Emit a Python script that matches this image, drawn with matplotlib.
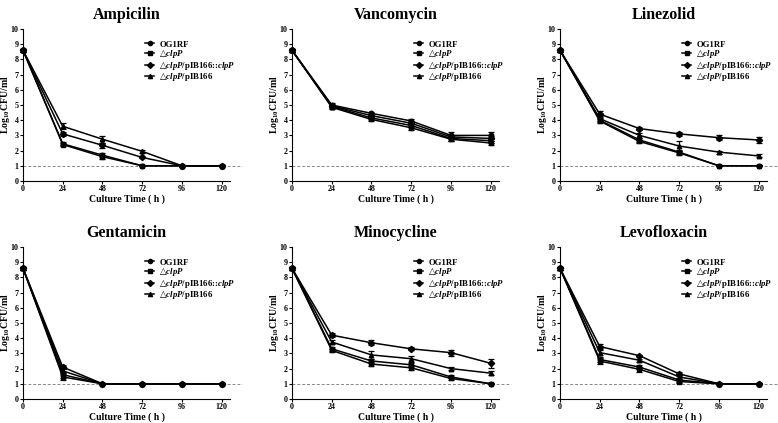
import matplotlib
matplotlib.use("Agg")
import matplotlib.pyplot as plt
import numpy as np

plt.rcParams['font.family'] = ['Liberation Serif', 'DejaVu Sans']
plt.rcParams['font.weight'] = 'bold'
plt.rcParams['mathtext.fontset'] = 'custom'
plt.rcParams['mathtext.rm'] = 'Liberation Serif:bold'
plt.rcParams['mathtext.it'] = 'Liberation Serif:bold:italic'
plt.rcParams['mathtext.bf'] = 'Liberation Serif:bold'
plt.rcParams['mathtext.sf'] = 'DejaVu Sans'
plt.rcParams['mathtext.fallback'] = 'stix'

time_h = [0, 24, 48, 72, 96, 120]
strains = ['OG1RF', r'$\mathsf{△}\mathit{clpP}$',
           r'$\mathsf{△}\mathit{clpP}$/pIB166::$\mathit{clpP}$',
           r'$\mathsf{△}\mathit{clpP}$/pIB166']
markers = ['o', 's', 'D', '^']

ampicilin = [
    [8.6, 2.45, 1.7, 1.0, 1.0, 1.0],
    [8.6, 2.4, 1.6, 1.0, 1.0, 1.0],
    [8.6, 3.1, 2.35, 1.55, 1.0, 1.0],
    [8.6, 3.6, 2.75, 1.95, 1.0, 1.0],
]
ampicilin_err = [
    [0.1, 0.1, 0.12, 0.02, 0.02, 0.02],
    [0.1, 0.1, 0.12, 0.02, 0.02, 0.02],
    [0.1, 0.15, 0.15, 0.05, 0.02, 0.02],
    [0.1, 0.2, 0.22, 0.12, 0.02, 0.02],
]
vancomycin = [
    [8.6, 5.0, 4.45, 3.95, 3.0, 3.0],
    [8.6, 4.85, 4.05, 3.5, 2.75, 2.5],
    [8.6, 4.95, 4.3, 3.8, 2.9, 2.8],
    [8.6, 4.9, 4.15, 3.65, 2.8, 2.65],
]
vancomycin_err = [
    [0.1, 0.12, 0.12, 0.15, 0.2, 0.25],
    [0.1, 0.1, 0.1, 0.12, 0.15, 0.12],
    [0.1, 0.1, 0.12, 0.12, 0.15, 0.15],
    [0.1, 0.1, 0.1, 0.12, 0.15, 0.12],
]
linezolid = [
    [8.6, 4.0, 2.7, 1.9, 1.0, 1.0],
    [8.6, 3.95, 2.6, 1.85, 1.0, 1.0],
    [8.6, 4.4, 3.45, 3.1, 2.85, 2.7],
    [8.6, 4.1, 3.0, 2.3, 1.9, 1.65],
]
linezolid_err = [
    [0.1, 0.12, 0.12, 0.15, 0.02, 0.02],
    [0.1, 0.12, 0.12, 0.12, 0.02, 0.02],
    [0.1, 0.2, 0.12, 0.15, 0.15, 0.2],
    [0.1, 0.15, 0.15, 0.3, 0.1, 0.1],
]
gentamicin = [
    [8.6, 1.6, 1.0, 1.0, 1.0, 1.0],
    [8.6, 1.45, 1.0, 1.0, 1.0, 1.0],
    [8.6, 2.1, 1.0, 1.0, 1.0, 1.0],
    [8.6, 1.85, 1.0, 1.0, 1.0, 1.0],
]
gentamicin_err = [
    [0.1, 0.2, 0.02, 0.02, 0.02, 0.02],
    [0.1, 0.2, 0.02, 0.02, 0.02, 0.02],
    [0.1, 0.12, 0.02, 0.02, 0.02, 0.02],
    [0.1, 0.15, 0.02, 0.02, 0.02, 0.02],
]
minocycline = [
    [8.6, 3.3, 2.5, 2.25, 1.45, 1.0],
    [8.6, 3.2, 2.3, 2.05, 1.35, 1.0],
    [8.6, 4.2, 3.7, 3.3, 3.05, 2.35],
    [8.6, 3.75, 2.9, 2.65, 2.0, 1.7],
]
minocycline_err = [
    [0.1, 0.12, 0.12, 0.12, 0.1, 0.02],
    [0.1, 0.1, 0.12, 0.12, 0.1, 0.02],
    [0.1, 0.15, 0.15, 0.1, 0.2, 0.3],
    [0.1, 0.15, 0.25, 0.2, 0.12, 0.12],
]
levofloxacin = [
    [8.6, 2.6, 2.1, 1.25, 1.0, 1.0],
    [8.6, 2.5, 1.95, 1.15, 1.0, 1.0],
    [8.6, 3.45, 2.85, 1.65, 1.0, 1.0],
    [8.6, 3.05, 2.55, 1.45, 1.0, 1.0],
]
levofloxacin_err = [
    [0.1, 0.15, 0.15, 0.1, 0.02, 0.02],
    [0.1, 0.2, 0.15, 0.1, 0.02, 0.02],
    [0.1, 0.15, 0.05, 0.15, 0.02, 0.02],
    [0.1, 0.15, 0.1, 0.15, 0.02, 0.02],
]

panels = [
    ('Ampicilin', ampicilin, ampicilin_err),
    ('Vancomycin', vancomycin, vancomycin_err),
    ('Linezolid', linezolid, linezolid_err),
    ('Gentamicin', gentamicin, gentamicin_err),
    ('Minocycline', minocycline, minocycline_err),
    ('Levofloxacin', levofloxacin, levofloxacin_err),
]

fig = plt.figure(figsize=(7.78, 4.23), dpi=100)
lefts = [23 / 778, 292 / 778, 560 / 778]
bottoms = [1 - 181 / 423, 1 - 399 / 423]
w = 207 / 778
h = 152 / 423

for i, (title, data, err) in enumerate(panels):
    r, c = divmod(i, 3)
    ax = fig.add_axes([lefts[c], bottoms[r], w, h])
    for k in range(4):
        ax.errorbar(time_h, data[k], yerr=err[k], color='black', lw=1.1,
                    marker=markers[k], ms=3.2, capsize=2, elinewidth=0.9,
                    capthick=0.9, clip_on=False, zorder=3)
        ax.plot([], [], color='black', lw=1.1, marker=markers[k], ms=3.0,
                label=strains[k])
    ax.axhline(1, xmin=0, xmax=1.06, color='#888888', lw=0.7, ls=(0, (3, 2)),
               clip_on=False, zorder=1)
    ax.set_xlim(0, 125)
    ax.set_ylim(0, 10)
    ax.set_xticks(time_h)
    ax.set_yticks(range(0, 11))
    ax.tick_params(labelsize=5.8, width=0.8, length=2.2, pad=1)
    for lab in ax.get_xticklabels() + ax.get_yticklabels():
        lab.set_fontweight('bold')
    ax.spines['top'].set_visible(False)
    ax.spines['right'].set_visible(False)
    ax.spines['left'].set_linewidth(0.8)
    ax.spines['bottom'].set_linewidth(0.8)
    ax.set_title(title, fontsize=11.5, fontweight='bold', pad=7)
    ax.set_xlabel('Culture Time ( h )', fontsize=7, fontweight='bold', labelpad=1)
    ax.set_ylabel(r'Log$_{10}$CFU/ml', fontsize=7, fontweight='bold')
    ax.yaxis.set_label_coords(-11 / 207, 0.5)
    ax.legend(loc='upper left', bbox_to_anchor=(0.59, 0.925), frameon=False,
              fontsize=6.3, handlelength=1.0, handletextpad=0.6,
              labelspacing=-0.16, borderaxespad=0, borderpad=0)

fig.savefig('out.png', dpi=100)
